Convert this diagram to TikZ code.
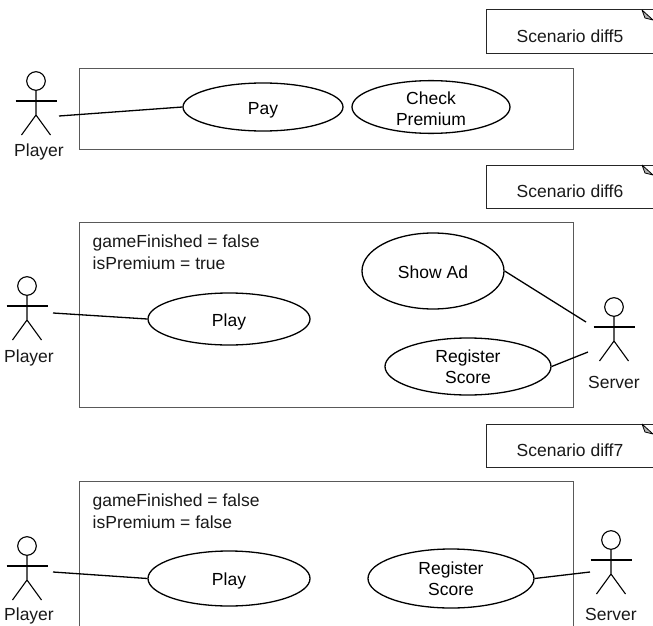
\documentclass[tikz,border=0pt]{standalone}
\usepackage{fontspec}
\setmainfont{Liberation Sans}
\usetikzlibrary{shapes.geometric}
\tikzset{
 x=1pt,y=-1pt,
 frame/.style={draw=black!65,line width=0.9pt,fill=none},
 uc/.style={ellipse,draw=black,line width=1.3pt,fill=white,inner sep=0pt,align=center,font=\fontsize{17.5}{21.5}\selectfont,minimum width=#1},
 lowtext/.style={text height=15pt,text depth=0pt},
 lbl/.style={font=\fontsize{17.5}{22}\selectfont,inner sep=0pt,align=left,text=black!90},
 notebox/.style={draw=black!85,line width=1pt,fill=white},
 stick/.style={draw=black,line width=1.1pt},
 assoc/.style={draw=black,line width=1.3pt},
 actor/.pic={
  \draw[stick] (0,-20) circle (9.3);
  \draw[line width=1.6pt] (-20.5,0) -- (20.5,0);
  \draw[stick] (0,-10.7) -- (0,14) (-14.5,34) -- (0,14) -- (14.5,34);
 }
}
\newcommand{\notefig}[3]{%
  \draw[notebox] (653,#2) -- (486,#2) -- (486,#3) -- (653,#3);
  \fill[black!30] (642,#2) -- (653,{#2+10}) -- (645,{#2+8}) -- cycle;
  \draw[black,line width=.8pt] (642,#2) -- (653,{#2+10}) (642,#2) -- (645,{#2+8}) -- (653,{#2+10});
  \node[lbl] at (570,{(#2+#3)/2+4.5}) {Scenario #1};
}
\begin{document}
\begin{tikzpicture}
\useasboundingbox (0,0) rectangle (653,626);
\fill[white] (0,0) rectangle (653,626);
% scenario notes
\notefig{diff5}{10}{54}
\notefig{diff6}{165}{208}
\notefig{diff7}{424}{467}
% system frames
\draw[frame] (79,68) rectangle (573,149);
\draw[frame] (79,222) rectangle (573,407);
\draw[frame] (79,626) -- (79,481) -- (573,481) -- (573,626);
% actors
\pic at (36,101) {actor};
\node[lbl] (player1) at (39,152) {Player};
\pic at (27,306) {actor};
\node[lbl] (player2) at (29,358) {Player};
\pic at (614,327) {actor};
\node[lbl] (server2) at (614,382) {Server};
\pic at (27,566) {actor};
\node[lbl] (player3) at (29,616) {Player};
\pic at (611,560) {actor};
\node[lbl] (server3) at (611,614) {Server};
\coordinate (a1) at (59,116);
\coordinate (a2) at (53,313);
\coordinate (s2a) at (586,322);
\coordinate (s2b) at (588,352);
\coordinate (a3) at (53,572);
\coordinate (s3) at (590,572);
% use cases
\node[uc=160pt,minimum height=48pt,lowtext] (pay) at (263,107) {Pay};
\node[uc=158pt,minimum height=48pt,text height=37.3pt,text depth=0pt] (check) at (431,107) {Check\\Premium};
\node[uc=142pt,minimum height=76pt,text height=14.8pt,text depth=0pt] (ad) at (433,271) {Show Ad};
\node[uc=162pt,minimum height=52pt,lowtext] (play2) at (229,319) {Play};
\node[uc=166pt,minimum height=57pt] (reg2) at (468,366.5) {Register\\Score};
\node[uc=162pt,minimum height=55pt,text height=14pt,text depth=0pt] (play3) at (229,578.5) {Play};
\node[uc=166pt,minimum height=59pt] (reg3) at (451,578.5) {Register\\Score};
% associations
\draw[assoc] (a1) -- (pay.west);
\draw[assoc] (a2) -- (play2.west);
\draw[assoc] (s2a) -- (ad.east);
\draw[assoc] (s2b) -- (reg2.east);
\draw[assoc] (a3) -- (play3.west);
\draw[assoc] (s3) -- (reg3.east);
% conditions
\node[lbl,anchor=north west] (c2) at (92.5,235) {gameFinished = false\\isPremium = true};
\node[lbl,anchor=north west] (c3) at (92.5,494) {gameFinished = false\\isPremium = false};
\end{tikzpicture}
\end{document}
